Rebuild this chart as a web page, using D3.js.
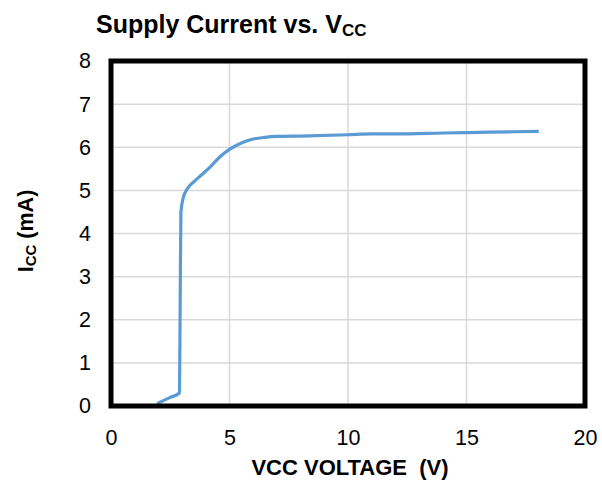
<!DOCTYPE html>
<html><head><meta charset="utf-8">
<script src="https://cdn.jsdelivr.net/npm/d3@7"></script>
<style>body{margin:0;background:#fff}svg{display:block}text{font-family:"Liberation Sans",Arial,sans-serif}</style>
</head><body>
<svg id="c" width="602" height="485"></svg>
<script>
const vcc = [2.0, 2.5, 2.86, 2.89, 2.92, 2.95, 3.05, 3.2, 3.5, 3.8, 4.2, 4.6, 5.0, 5.5, 6.0, 6.5, 7.0, 8, 10, 11, 12, 14, 16, 18];
const icc = [0.07, 0.2, 0.29, 0.32, 2.5, 4.5, 4.83, 5.02, 5.2, 5.35, 5.55, 5.78, 5.95, 6.1, 6.19, 6.23, 6.25, 6.26, 6.29, 6.31, 6.31, 6.33, 6.35, 6.37];
const xTicks = [0, 5, 10, 15, 20];
const yTicks = [0, 1, 2, 3, 4, 5, 6, 7, 8];

const svg = d3.select("#c");
const x = d3.scaleLinear().domain([0, 20]).range([111, 585]);
const y = d3.scaleLinear().domain([0, 8]).range([406, 61]);

// grid
svg.append("g").selectAll("line").data(xTicks.slice(1, -1)).join("line")
  .attr("x1", d => x(d)).attr("x2", d => x(d)).attr("y1", y(8)).attr("y2", y(0))
  .attr("stroke", "#d9d9d9").attr("stroke-width", 1.5);
svg.append("g").selectAll("line").data(yTicks.slice(1, -1)).join("line")
  .attr("y1", d => y(d)).attr("y2", d => y(d)).attr("x1", x(0)).attr("x2", x(20))
  .attr("stroke", "#d9d9d9").attr("stroke-width", 1.5);

// data line
const pts = vcc.map((v, i) => [v, icc[i]]);
svg.append("path").datum(pts)
  .attr("d", d3.line().x(d => x(d[0])).y(d => y(d[1])).curve(d3.curveMonotoneX))
  .attr("fill", "none").attr("stroke", "#5b9bd5").attr("stroke-width", 3.2)
  .attr("stroke-linejoin", "round").attr("stroke-linecap", "round");

// border
svg.append("rect").attr("x", x(0)).attr("y", y(8)).attr("width", x(20) - x(0)).attr("height", y(0) - y(8))
  .attr("fill", "none").attr("stroke", "#000").attr("stroke-width", 5);

// axes
const xAxis = svg.append("g").attr("transform", `translate(0,${y(0)})`)
  .call(d3.axisBottom(x).tickValues(xTicks).tickSize(0).tickPadding(24));
xAxis.select(".domain").remove();
xAxis.selectAll("text").attr("font-size", 21.5).attr("fill", "#000")
  .style("font-family", '"Liberation Sans",Arial,sans-serif');

const yAxis = svg.append("g").attr("transform", `translate(${x(0)},0)`)
  .call(d3.axisLeft(y).tickValues(yTicks).tickSize(0).tickPadding(20));
yAxis.select(".domain").remove();
yAxis.selectAll("text").attr("font-size", 21.5).attr("fill", "#000")
  .style("font-family", '"Liberation Sans",Arial,sans-serif');

// titles
const t = svg.append("text").attr("x", 96).attr("y", 33).attr("font-size", 25).attr("font-weight", "bold");
t.append("tspan").text("Supply Current vs. V");
t.append("tspan").attr("font-size", 17).attr("dy", 3).text("CC");

svg.append("text").attr("x", 350).attr("y", 475).attr("text-anchor", "middle")
  .attr("font-size", 22).attr("font-weight", "bold")
  .text("VCC VOLTAGE\u00a0 (V)");

const yt = svg.append("text").attr("transform", "translate(33,231) rotate(-90)")
  .attr("text-anchor", "middle").attr("font-size", 21.5).attr("font-weight", "bold");
yt.append("tspan").text("I");
yt.append("tspan").attr("font-size", 15).attr("dy", 3).text("CC");
yt.append("tspan").attr("dy", -3).text(" (mA)");
</script>
</body></html>
